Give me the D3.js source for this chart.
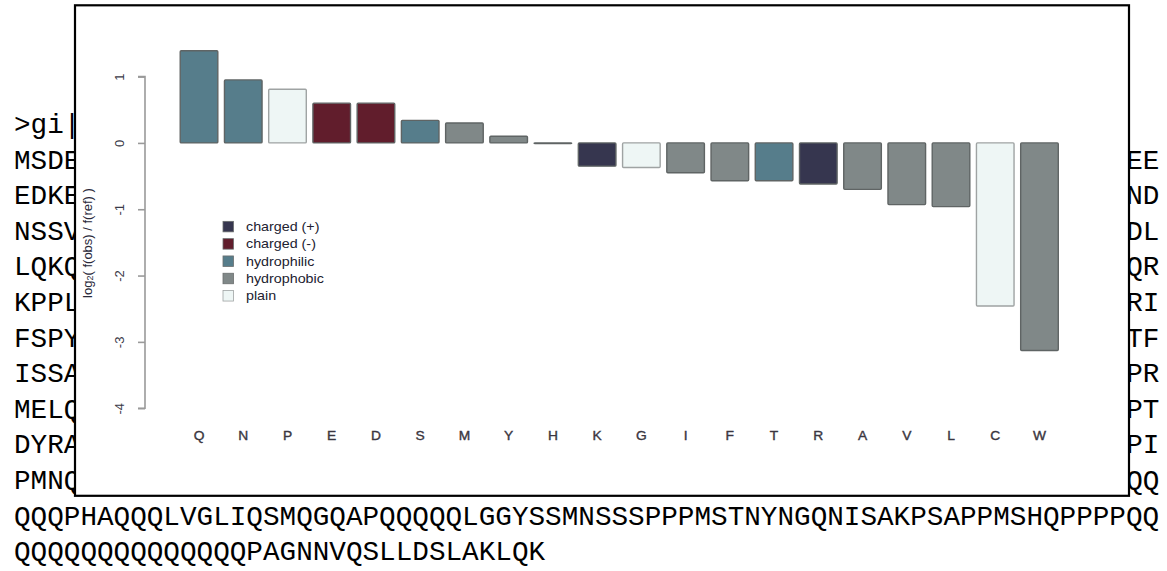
<!DOCTYPE html>
<html>
<head>
<meta charset="utf-8">
<script src="https://cdn.jsdelivr.net/npm/d3@7"></script>
<style>
  html, body { margin: 0; padding: 0; background: #fff; }
  svg { display: block; }
</style>
</head>
<body>
<svg id="chart" width="1167" height="571"></svg>
<script>
// Amino acids ordered by enrichment, with log2 ratios and residue classes
const categories = ["Q","N","P","E","D","S","M","Y","H","K","G","I","F","T","R","A","V","L","C","W"];
const values = [1.39, 0.95, 0.81, 0.60, 0.60, 0.34, 0.30, 0.10, -0.01, -0.35, -0.37, -0.45, -0.57, -0.57, -0.62, -0.70, -0.93, -0.96, -2.46, -3.13];
const groups = ["hydrophilic","hydrophilic","plain","charged (-)","charged (-)","hydrophilic","hydrophobic","hydrophobic","charged (+)","charged (+)","plain","hydrophobic","hydrophobic","hydrophilic","charged (+)","hydrophobic","hydrophobic","hydrophobic","plain","hydrophobic"];

// Legend entries and their fills
const legendLabels = ["charged (+)","charged (-)","hydrophilic","hydrophobic","plain"];
const legendColors = ["#36364f","#611d2c","#567d8b","#808888","#eef6f5"];

// Y axis ticks
const yTicks = [1, 0, -1, -2, -3, -4];

// Protein sequence text lying behind the plot (left and right visible pieces, then full lines)
const seqLeft = [">gi|","MSDE","EDKE","NSSV","LQKQ","KPPL","FSPY","ISSA","MELQ","DYRA","PMNQ"];
const seqRight = ["","EE","ND","DL","QR","RI","TF","PR","PT","PI","QQ"];
const seqFull = [
  "QQQPHAQQQLVGLIQSMQGQAPQQQQQLGGYSSMNSSSPPPMSTNYNGQNISAKPSAPPMSHQPPPPQQ",
  "QQQQQQQQQQQQQQPAGNNVQSLLDSLAKLQK"
];

const svg = d3.select("#chart");

// ---- background sequence text ----
const charW = 16.6, monoSize = charW / 0.6;
const seqX0 = 14, rowCenter0 = 123.8, rowStep = 35.6, capHalf = 9.2;
const seqG = svg.append("g")
  .attr("font-family", "Liberation Mono, monospace")
  .attr("font-size", monoSize)
  .attr("fill", "#000");

function seqRow(i, str, charIndex) {
  seqG.append("text")
    .attr("x", seqX0 + charIndex * charW)
    .attr("y", rowCenter0 + rowStep * i + capHalf)
    .attr("xml:space", "preserve")
    .text(str);
}
seqLeft.forEach((s, i) => seqRow(i, s, 0));
seqRight.forEach((s, i) => { if (s) seqRow(i, s, 67); });
seqFull.forEach((s, i) => seqRow(seqLeft.length + i, s, 0));

// ---- plot frame ----
svg.append("rect")
  .attr("x", 75).attr("y", 5.3)
  .attr("width", 1054).attr("height", 490.5)
  .attr("fill", "#fff")
  .attr("stroke", "#000")
  .attr("stroke-width", 2.2);

// ---- scales ----
const x = d3.scaleBand()
  .domain(categories)
  .range([176.9, 1061.6])
  .paddingInner(0.15)
  .paddingOuter(0.075);

const y = d3.scaleLinear()
  .domain([-4, 1])
  .range([408.2, 76.6]);

const color = d3.scaleOrdinal().domain(legendLabels).range(legendColors);

const stretch = 1.15; // horizontal stretch applied to plot lettering

// ---- bars ----
const data = categories.map((c, i) => ({ c, v: values[i], g: groups[i] }));
svg.append("g").selectAll("rect")
  .data(data)
  .join("rect")
  .attr("x", d => x(d.c))
  .attr("width", x.bandwidth())
  .attr("y", d => y(Math.max(0, d.v)))
  .attr("height", d => Math.abs(y(d.v) - y(0)))
  .attr("rx", 1)
  .attr("fill", d => color(d.g))
  .attr("stroke", d => d.g === "plain" ? "#9fa3a3" : "#5f6464")
  .attr("stroke-width", 1.4);

// ---- y axis ----
const yAxisX = 145;
const yAxis = d3.axisLeft(y).tickValues(yTicks).tickSize(7).tickFormat(d => String(d));
const yg = svg.append("g").attr("transform", `translate(${yAxisX},0)`).call(yAxis);
yg.select(".domain").attr("stroke", "#9a9a9a").attr("stroke-width", 1.6)
  .attr("d", `M-7,${y(1)}H0V${y(-4)}H-7`);
yg.selectAll(".tick line").attr("stroke", "#9a9a9a").attr("stroke-width", 1.6);
yg.selectAll(".tick text")
  .attr("x", null).attr("dy", null)
  .attr("font-family", "Liberation Sans, Arial, sans-serif")
  .attr("font-size", 13)
  .attr("fill", "#3a3a48")
  .attr("text-anchor", "middle")
  .attr("dominant-baseline", "central")
  .attr("transform", "translate(-25.5,0) rotate(-90)");

// ---- y axis title ----
const yTitle = svg.append("text")
  .attr("transform", "translate(87,243) rotate(-90)")
  .attr("text-anchor", "middle")
  .attr("dominant-baseline", "central")
  .attr("font-family", "Liberation Sans, Arial, sans-serif")
  .attr("font-size", 13)
  .attr("fill", "#2a2a3a");
yTitle.append("tspan").text("log");
yTitle.append("tspan").attr("font-size", 9).attr("dy", 3).text("2");
yTitle.append("tspan").attr("dy", -3).text("( f(obs) / f(ref) )");

// ---- category labels ----
const xlab = svg.append("g")
  .attr("font-family", "Liberation Sans, Arial, sans-serif")
  .attr("font-size", 12)
  .attr("fill", "#3a3640");
categories.forEach(c => {
  xlab.append("g")
    .attr("transform", `translate(${x(c) + x.bandwidth() / 2},${439.5}) scale(${stretch},1)`)
    .append("text")
    .attr("text-anchor", "middle")
    .attr("stroke", "#3a3640").attr("stroke-width", 0.35)
    .text(c);
});

// ---- legend ----
const legend = svg.append("g");
const legX = 223, legY0 = 226.6, legStep = 17.3, sq = 10.5;
legendLabels.forEach((lab, i) => {
  const cy = legY0 + i * legStep;
  legend.append("rect")
    .attr("x", legX).attr("y", cy - sq / 2)
    .attr("width", sq).attr("height", sq)
    .attr("fill", legendColors[i])
    .attr("stroke", lab === "plain" ? "#9fa3a3" : "#6a6e6e")
    .attr("stroke-width", 0.8);
  legend.append("g")
    .attr("transform", `translate(246,${cy + 4.5}) scale(1.1,1)`)
    .append("text")
    .attr("font-family", "Liberation Sans, Arial, sans-serif")
    .attr("font-size", 13)
    .attr("fill", "#222230")
    .text(lab);
});
</script>
</body>
</html>
